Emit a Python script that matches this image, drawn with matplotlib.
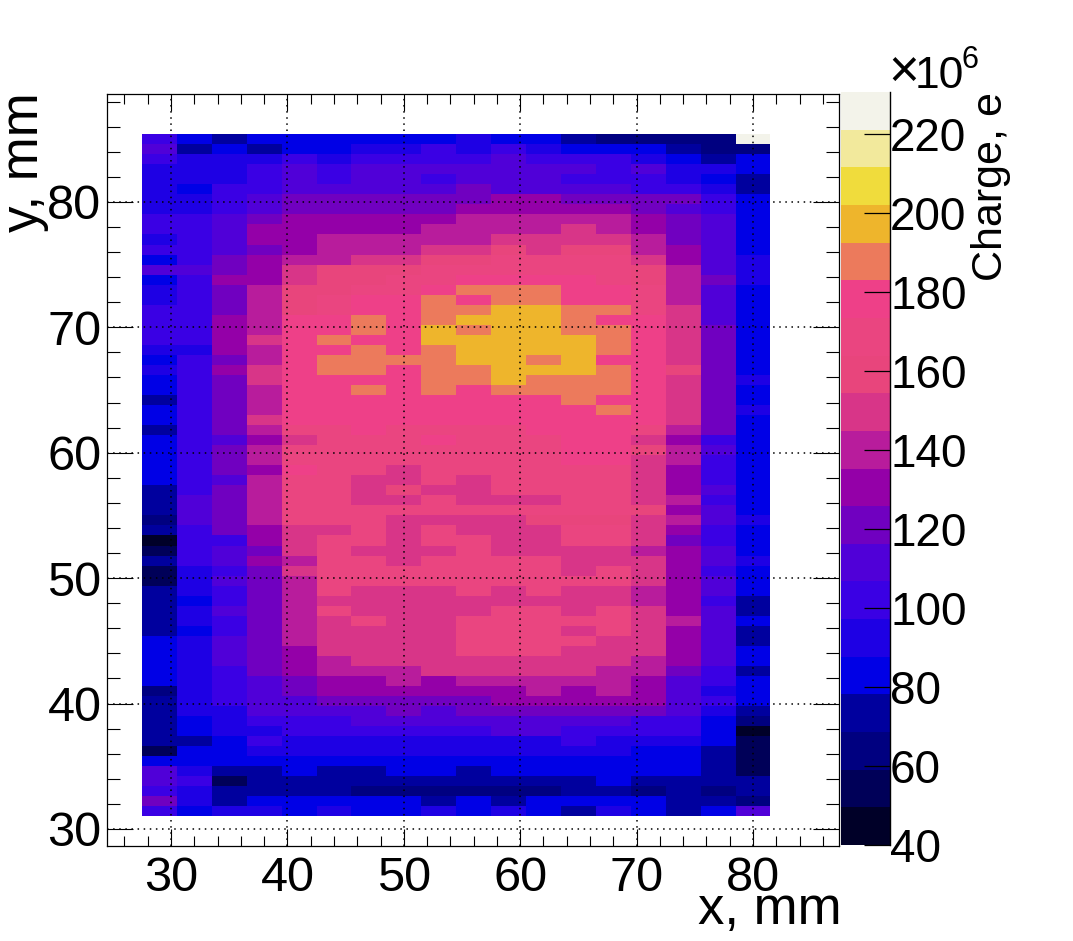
# -*- coding: utf-8 -*-
import numpy as np
import matplotlib
matplotlib.use("Agg")
import matplotlib.pyplot as plt
from matplotlib.colors import ListedColormap, BoundaryNorm
from matplotlib.ticker import MultipleLocator

plt.rcParams['font.family'] = ['Liberation Sans', 'DejaVu Sans']

W, H = 1073, 941

# bin edges, mm
x_start, x_bin, n_x = 27.5, 3.0, 18
y_start, y_bin, n_y = 31.0, 0.8, 68

# charge in 1e6 e, rows from top (y=85.4) to bottom (y=31)
charge = [
    [102,83,73,83,83,83,83,83,83,92,83,83,73,64,64,64,64,226],
    [111,73,83,73,83,83,92,92,102,92,102,92,83,83,83,73,64,64],
    [102,92,92,92,102,92,102,102,102,102,111,102,102,102,92,83,73,83],
    [92,92,92,102,111,102,111,111,111,111,111,111,111,102,111,92,92,83],
    [92,92,92,102,111,102,111,111,102,111,111,111,102,102,102,92,83,73],
    [92,83,102,102,111,111,111,111,111,121,111,111,111,111,102,102,92,73],
    [92,92,102,111,121,121,121,121,121,121,130,130,121,121,121,121,102,83],
    [92,92,102,111,121,121,121,121,121,130,130,130,130,130,121,111,102,83],
    [102,102,111,121,130,130,130,130,130,140,140,140,140,140,130,121,111,83],
    [102,102,111,130,130,130,130,130,140,140,140,140,149,140,130,121,111,83],
    [92,102,111,130,130,140,140,140,140,140,149,149,149,149,140,121,111,83],
    [102,102,111,121,130,140,140,140,149,149,159,149,159,159,140,130,111,83],
    [83,102,121,130,140,140,149,149,159,159,168,168,168,168,149,130,111,92],
    [111,111,121,130,149,159,159,159,168,168,168,168,168,168,159,140,111,92],
    [83,102,130,130,149,159,159,168,168,178,178,178,178,168,159,140,121,92],
    [92,102,121,140,159,159,168,168,178,188,188,188,178,178,168,140,111,83],
    [92,102,121,140,159,168,178,178,188,178,188,188,178,178,168,140,111,83],
    [102,102,121,140,159,168,178,178,188,188,197,197,188,188,168,149,111,83],
    [102,102,130,140,178,178,188,178,188,197,197,197,188,178,178,149,111,83],
    [102,102,130,140,178,178,188,178,197,188,197,197,188,188,178,149,121,83],
    [102,102,130,149,178,188,178,178,197,197,197,197,197,188,178,149,121,83],
    [92,92,130,140,178,178,188,178,188,197,197,197,197,188,178,149,121,83],
    [83,102,121,140,178,188,188,188,188,197,197,188,197,178,178,149,121,83],
    [92,102,130,149,178,188,188,178,188,188,197,197,197,188,178,159,121,83],
    [83,102,121,149,178,178,178,178,188,188,197,188,188,188,178,149,121,92],
    [83,102,121,140,178,178,188,178,188,178,188,188,188,188,178,149,121,83],
    [73,102,121,140,178,178,178,178,178,178,178,178,188,178,178,149,121,83],
    [83,102,121,140,178,178,178,178,178,178,178,178,178,188,178,149,121,92],
    [83,102,121,149,178,178,178,178,178,178,178,178,178,178,178,149,121,83],
    [73,102,121,140,168,168,178,168,168,168,168,178,178,178,168,140,121,83],
    [83,102,111,130,149,168,168,168,178,168,168,168,178,178,149,130,102,83],
    [83,102,121,140,168,168,168,168,168,168,168,168,178,178,159,140,111,83],
    [83,102,121,140,168,168,168,168,168,168,168,168,178,178,149,140,102,83],
    [83,102,121,130,178,168,168,149,168,168,168,168,168,168,149,130,102,83],
    [83,102,111,140,168,168,149,149,168,149,168,168,168,168,149,130,102,83],
    [73,102,121,140,168,168,149,159,149,149,168,168,168,168,149,130,111,83],
    [73,111,121,140,168,168,149,149,168,149,149,149,168,168,149,140,102,83],
    [73,111,121,140,168,168,168,168,168,168,168,168,168,168,159,130,111,83],
    [64,111,121,140,168,168,168,149,149,149,149,159,159,159,149,140,111,92],
    [73,102,121,130,149,149,168,149,168,149,149,149,168,168,149,130,102,83],
    [45,102,102,130,149,168,168,149,168,168,149,149,168,168,149,121,102,83],
    [54,102,111,121,149,168,149,149,149,168,149,149,149,149,140,130,111,83],
    [73,102,111,130,140,168,168,149,168,168,168,168,149,149,149,130,111,92],
    [54,92,102,121,149,168,168,168,168,168,168,168,149,168,149,130,102,83],
    [54,92,111,121,140,168,168,168,168,168,168,168,168,168,149,130,111,83],
    [73,92,102,121,140,168,149,149,149,168,149,168,149,149,140,130,111,83],
    [73,83,102,121,140,149,149,149,149,149,149,149,149,149,140,130,102,73],
    [73,92,111,121,140,168,149,149,149,149,168,168,149,168,149,130,111,73],
    [73,92,102,121,140,149,168,149,149,168,168,168,168,168,149,140,111,83],
    [73,83,102,121,140,149,149,149,149,168,168,168,149,168,149,130,111,73],
    [83,92,111,121,140,149,149,149,149,168,168,168,168,149,149,130,111,73],
    [83,92,111,121,130,149,149,149,149,168,168,168,149,149,149,130,111,83],
    [83,92,111,121,130,140,149,149,149,149,149,149,149,149,140,130,111,83],
    [83,92,102,121,130,140,140,140,149,149,149,149,149,140,140,121,102,73],
    [83,92,102,111,121,130,130,140,130,140,140,140,140,140,130,111,102,83],
    [64,92,102,111,121,130,130,130,130,130,130,140,130,140,130,111,92,83],
    [73,92,102,111,111,121,121,121,121,121,130,130,130,130,130,111,102,83],
    [73,92,92,111,111,111,111,121,111,121,121,121,121,121,121,111,92,73],
    [73,83,92,102,102,102,111,111,111,111,111,111,111,111,102,102,83,64],
    [73,83,92,92,102,102,102,102,102,102,111,111,102,102,102,102,83,45],
    [73,73,83,102,92,92,92,92,92,92,92,92,102,92,92,92,83,54],
    [54,83,83,92,92,92,92,92,92,92,92,92,92,92,83,83,73,54],
    [83,83,83,83,83,83,83,83,83,83,83,83,83,83,83,83,73,54],
    [111,92,73,73,83,73,73,83,83,73,83,83,83,83,83,83,73,54],
    [111,102,54,73,73,73,73,73,73,73,73,73,73,83,73,73,73,73],
    [102,92,73,73,73,73,64,64,64,64,64,64,73,73,64,73,64,73],
    [121,92,73,83,83,83,83,83,73,83,73,83,83,83,83,73,73,64],
    [102,83,92,92,83,92,83,83,92,83,92,83,73,92,83,73,83,111],
]

# palette of the colour bar, bottom to top
level_colors = ['#000028','#000058','#000080','#00009e','#0000e6','#1e00e4','#3a00e4',
                '#5000d8','#7000c0','#9400a8','#b81c9c','#d83588','#e8457c','#ea4580',
                '#ee4088','#ec7a5c','#eeb52c','#f0dc3c','#f2e99c','#f3f3ea']
charge_min, charge_max = 40, 230.5
bar_ticks = [40, 60, 80, 100, 120, 140, 160, 180, 200, 220]
x_ticks = [30, 40, 50, 60, 70, 80]
y_ticks = [30, 40, 50, 60, 70, 80]

x_edges = x_start + x_bin * np.arange(n_x + 1)
y_edges = y_start + y_bin * np.arange(n_y + 1)
z = np.array(charge)[::-1]

levels = np.linspace(charge_min, charge_max, len(level_colors) + 1)
cmap = ListedColormap(level_colors)
norm = BoundaryNorm(levels, cmap.N)

fig = plt.figure(figsize=(W / 100, H / 100), dpi=100)


def px_axes(left, top, right, bottom):
    return fig.add_axes([left / W, 1 - bottom / H, (right - left) / W, (bottom - top) / H])


ax = px_axes(107, 94, 839, 846)
mesh = ax.pcolormesh(x_edges, y_edges, z, cmap=cmap, norm=norm, linewidth=0, rasterized=True)
ax.set_xlim(24.5, 87.39)
ax.set_ylim(28.64, 88.6)
ax.set_xticks(x_ticks)
ax.set_yticks(y_ticks)
ax.xaxis.set_minor_locator(MultipleLocator(2))
ax.yaxis.set_minor_locator(MultipleLocator(2))
ax.grid(True, which='major', color='black', linestyle=(0, (1, 3)), linewidth=1.1)
ax.set_axisbelow(False)
ax.tick_params(which='major', axis='x', direction='in', top=True, bottom=True, length=12.5, width=0.8, pad=7, labelsize=35)
ax.tick_params(which='minor', axis='x', direction='in', top=True, bottom=True, length=7.5, width=0.8)
ax.tick_params(which='major', axis='y', direction='in', left=True, right=True, length=19, width=0.8, pad=4, labelsize=35)
ax.tick_params(which='minor', axis='y', direction='in', left=True, right=True, length=9.5, width=0.8)
for s in ax.spines.values():
    s.set_linewidth(0.9)

cax = px_axes(841, 92, 890, 845)
cb = fig.colorbar(mesh, cax=cax, ticks=bar_ticks, spacing='proportional', drawedges=False)
cb.outline.set_visible(False)
cax.spines['right'].set_visible(True)
cax.spines['right'].set_linewidth(1.0)
cax.tick_params(axis='y', direction='in', right=True, left=False, length=19, width=0.9, pad=0, labelsize=33)
cax.minorticks_off()

fig.text(842 / W, 1 - 910 / H, 'x, mm', ha='right', va='center', fontsize=38)
fig.text(24 / W, 1 - 92 / H, 'y, mm', ha='center', va='top', rotation=90, fontsize=38)
fig.text(888 / W, 1 - 88 / H, '\u00d7', ha='left', va='baseline', fontsize=38)
fig.text(915 / W, 1 - 88 / H, '10', ha='left', va='baseline', fontsize=32)
fig.text(961 / W, 1 - 68 / H, '6', ha='left', va='baseline', fontsize=22)
fig.text(991 / W, 1 - 92 / H, 'Charge, e', ha='center', va='top', rotation=90, fontsize=31)

fig.savefig('out.png', dpi=100)
